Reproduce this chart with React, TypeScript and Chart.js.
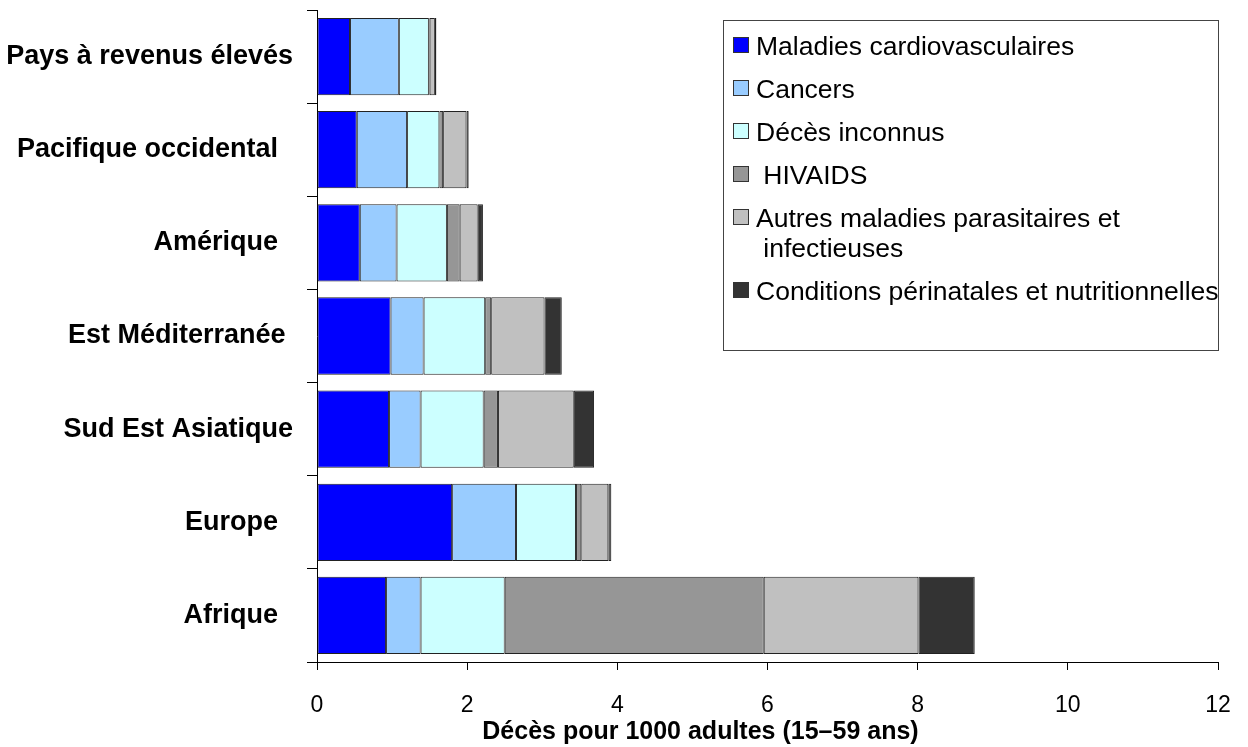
import React, { useEffect, useRef } from "react";
import { Chart, registerables } from "chart.js";

Chart.register(...registerables);

const FONT = '"Liberation Sans", Arial, Helvetica, sans-serif';

// Categories, top to bottom (trailing spaces as in the original labels)
const categories = [
  "Pays à revenus élevés",
  "Pacifique occidental  ",
  "Amérique  ",
  "Est Méditerranée ",
  "Sud Est Asiatique",
  "Europe  ",
  "Afrique  ",
];

// Series values (deaths per 1000 adults, 15–59)
const cardiovasculaires = [0.44, 0.53, 0.57, 0.98, 0.96, 1.8, 0.92];
const cancers = [0.65, 0.67, 0.49, 0.44, 0.42, 0.85, 0.46];
const decesInconnus = [0.4, 0.43, 0.67, 0.82, 0.84, 0.8, 1.12];
const hivaids = [0.01, 0.05, 0.17, 0.08, 0.19, 0.07, 3.45];
const autresInfectieuses = [0.07, 0.31, 0.24, 0.71, 1.01, 0.36, 2.06];
const perinatales = [0.02, 0.03, 0.07, 0.23, 0.27, 0.04, 0.75];

const seriesLabels: string[][] = [
  ["Maladies cardiovasculaires"],
  ["Cancers"],
  ["Décès inconnus"],
  [" HIVAIDS"],
  ["Autres maladies parasitaires et", " infectieuses"],
  ["Conditions périnatales et nutritionnelles"],
];
const seriesValues = [
  cardiovasculaires,
  cancers,
  decesInconnus,
  hivaids,
  autresInfectieuses,
  perinatales,
];
const seriesColors = ["#0000FF", "#99CCFF", "#CCFFFF", "#969696", "#C0C0C0", "#333333"];

const xMin = 0;
const xMax = 12;
const xStep = 2;
const xAxisTitle = "Décès pour 1000 adultes (15–59 ans)";

const overlayPlugin = {
  id: "overlay",
  afterDraw(chart: any) {
    const ctx = chart.ctx as CanvasRenderingContext2D;
    const area = chart.chartArea;
    ctx.save();
    // x-axis title (placed left of centre as in the reference)
    ctx.font = `bold 25px ${FONT}`;
    ctx.fillStyle = "#000";
    ctx.textAlign = "center";
    ctx.textBaseline = "alphabetic";
    ctx.fillText(xAxisTitle, area.left + (area.right - area.left) * 0.4256, 739);

    // legend box
    ctx.fillStyle = "#fff";
    ctx.fillRect(723, 20, 496, 331);
    ctx.strokeStyle = "#444";
    ctx.lineWidth = 1;
    ctx.strokeRect(723.5, 20.5, 495, 330);

    ctx.font = `26.5px ${FONT}`;
    ctx.textAlign = "left";
    let baseline = 55;
    chart.data.datasets.forEach((ds: any, i: number) => {
      const lines = seriesLabels[i];
      ctx.fillStyle = ds.backgroundColor;
      ctx.fillRect(733, baseline - 18, 16, 16);
      ctx.strokeStyle = "#333";
      ctx.strokeRect(733.5, baseline - 17.5, 15, 15);
      ctx.fillStyle = "#000";
      lines.forEach((line, j) => ctx.fillText(line, 756, baseline + j * 30));
      baseline += 43 + (lines.length - 1) * 30;
    });
    ctx.restore();
  },
};

export default function App() {
  const canvasRef = useRef<HTMLCanvasElement | null>(null);

  useEffect(() => {
    if (!canvasRef.current) return;
    const chart = new Chart(canvasRef.current, {
      type: "bar",
      data: {
        labels: categories,
        datasets: seriesValues.map((vals, i) => ({
          label: seriesLabels[i].join(""),
          data: vals,
          backgroundColor: seriesColors[i],
          borderColor: "#222222",
          borderWidth: 1,
          borderSkipped: false,
          barPercentage: 0.83,
          categoryPercentage: 1,
        })),
      },
      options: {
        indexAxis: "y",
        responsive: false,
        animation: false,
        devicePixelRatio: 1,
        layout: { padding: { top: 10, right: 30, left: 0, bottom: 0 } },
        plugins: {
          legend: { display: false },
          tooltip: { enabled: false },
          title: { display: false },
        },
        scales: {
          x: {
            stacked: true,
            min: xMin,
            max: xMax,
            ticks: {
              stepSize: xStep,
              color: "#000",
              font: { family: FONT, size: 23 },
              padding: 22,
              maxRotation: 0,
            },
            grid: {
              drawOnChartArea: false,
              drawTicks: true,
              tickLength: 8,
              color: "#000",
              lineWidth: 1,
            },
            border: { display: true, color: "#000", width: 1 },
            afterFit(scale: any) {
              scale.height = 85;
              scale.paddingLeft = 0;
              scale.paddingRight = 0;
            },
          },
          y: {
            stacked: true,
            ticks: {
              color: "#000",
              font: { family: FONT, size: 27, weight: "bold" },
              padding: 14,
            },
            grid: {
              offset: true,
              drawOnChartArea: false,
              drawTicks: true,
              tickLength: 10,
              color: "#000",
              lineWidth: 1,
            },
            border: { display: true, color: "#000", width: 1 },
            afterFit(scale: any) {
              scale.width = 317;
              scale.paddingTop = 0;
              scale.paddingBottom = 0;
            },
          },
        },
      },
      plugins: [overlayPlugin],
    } as any);
    return () => chart.destroy();
  }, []);

  return (
    <div
      style={{
        position: "fixed",
        left: 0,
        top: 0,
        width: 1248,
        height: 747,
        background: "#fff",
      }}
    >
      <canvas
        ref={canvasRef}
        width={1248}
        height={747}
        style={{ display: "block", width: 1248, height: 747 }}
      />
    </div>
  );
}
